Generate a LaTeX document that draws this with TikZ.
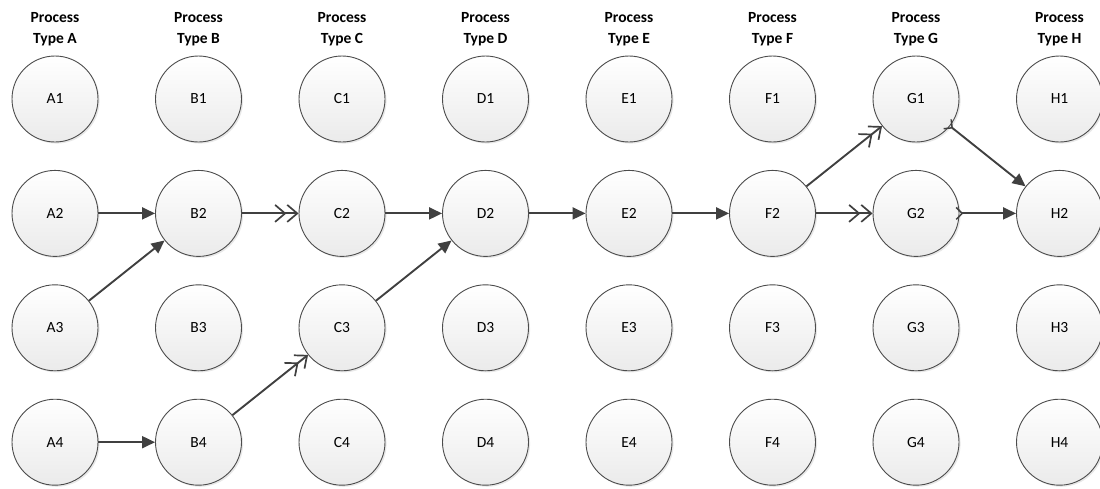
\documentclass[tikz,border=0pt]{standalone}
\usepackage{fontspec}
\setmainfont{Carlito}
\usetikzlibrary{arrows.meta,shadows}

\begin{document}
\begin{tikzpicture}[x=1pt,y=-1pt,
  proc/.style={circle, draw=black!70, line width=0.9pt, minimum size=86pt,
    inner sep=0pt, top color=white, bottom color=black!8,
    drop shadow={shadow xshift=1.6pt,shadow yshift=-1.6pt,opacity=0.18},
    font=\fontsize{15.5}{18}\selectfont},
  head/.style={align=center, font=\bfseries\fontsize{15.5}{21}\selectfont},
  link/.style={draw=black!75, line width=1.9pt},
  solidtip/.style={-{Triangle[length=13pt,width=12pt]}},
  opentip/.style={-{Straight Barb[length=10pt,width=17pt,line width=1.7pt] Straight Barb[length=10pt,width=17pt,line width=1.7pt]}},
  tailtip/.style={{Straight Barb[reversed,length=6pt,width=12pt,line width=1.5pt]}-{Triangle[length=13pt,width=12pt]}}
]
\useasboundingbox (0,0) rectangle (1100,488);

% column headers and the grid of process circles
\foreach \c [count=\i from 0] in {A,B,C,D,E,F,G,H} {
  \node[head] (h\c) at ({55+143.5*\i},29) {Process\\Type \c};
  \foreach \r in {1,2,3,4}
    \node[proc] (\c\r) at ({55+143.5*\i},{99+114.4*(\r-1)}) {\c\r};
}

% flow between processes
\draw[link,solidtip] (A2) -- (B2);
\draw[link,solidtip] (A3) -- (B2);
\draw[link,solidtip] (A4) -- (B4);
\draw[link,opentip]  (B2) -- (C2);
\draw[link,opentip]  (B4) -- (C3);
\draw[link,solidtip] (C2) -- (D2);
\draw[link,solidtip] (C3) -- (D2);
\draw[link,solidtip] (D2) -- (E2);
\draw[link,solidtip] (E2) -- (F2);
\draw[link,opentip]  (F2) -- (G1);
\draw[link,opentip]  (F2) -- (G2);
\draw[link,tailtip,shorten <=-4pt] (G1) -- (H2);
\draw[link,tailtip,shorten <=-4pt] (G2) -- (H2);
\end{tikzpicture}
\end{document}
